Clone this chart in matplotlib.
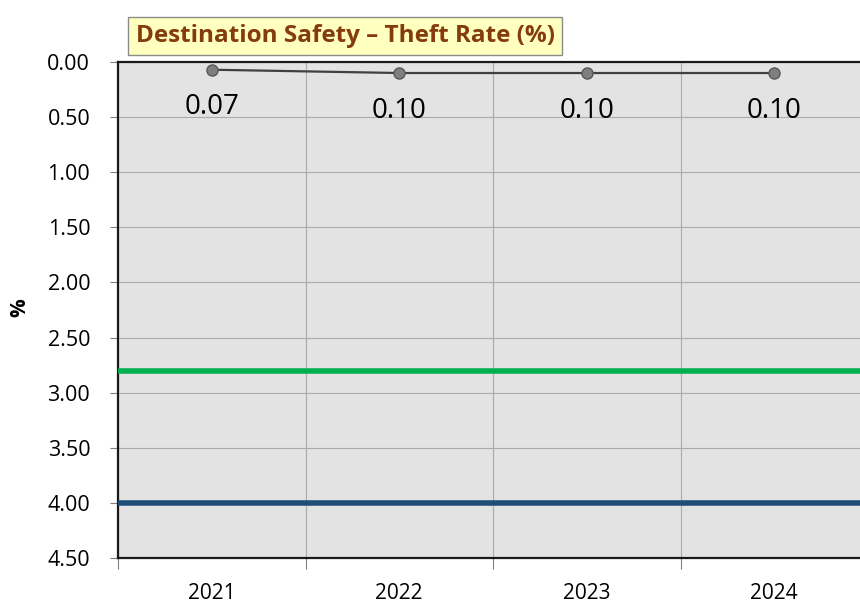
import matplotlib.pyplot as plt
import matplotlib.font_manager as fm

names = {f.name for f in fm.fontManager.ttflist}
main_font = 'Liberation Sans Narrow' if 'Liberation Sans Narrow' in names else 'Open Sans'
plt.rcParams['font.family'] = [main_font, 'DejaVu Sans']

# data
years = ['2021', '2022', '2023', '2024']
theft_rate = [0.07, 0.10, 0.10, 0.10]
target_green = 2.8
target_blue = 4.0
y_ticks = [0.0, 0.5, 1.0, 1.5, 2.0, 2.5, 3.0, 3.5, 4.0, 4.5]

fig = plt.figure(figsize=(8.6, 6.03), dpi=100)
ax = fig.add_axes([118 / 860, 1 - 558 / 603, 750 / 860, 496 / 603])
ax.set_facecolor('#e3e3e3')

x = list(range(len(years)))
ax.set_xlim(-0.5, len(years) - 0.5)
ax.set_ylim(4.5, 0.0)

ax.axhline(target_green, color='#00b050', linewidth=4, zorder=3)
ax.axhline(target_blue, color='#1f4e79', linewidth=4, zorder=3)

ax.plot(x, theft_rate, color='#404040', linewidth=1.6, marker='o',
        markersize=8, markerfacecolor='#7f7f7f', markeredgecolor='#595959', zorder=4)
for xi, v in zip(x, theft_rate):
    ax.annotate(f'{v:.2f}', (xi, v), xytext=(0, -27), textcoords='offset points',
                ha='center', va='center', fontsize=20, color='black')

ax.set_yticks(y_ticks)
ax.set_yticklabels([f'{t:.2f}' for t in y_ticks], fontsize=15.5)
ax.set_xticks([i - 0.5 for i in range(len(years) + 1)], minor=False)
ax.set_xticklabels([])
ax.set_xticks(x, minor=True)
ax.set_xticklabels(years, minor=True, fontsize=15)
ax.tick_params(axis='x', which='major', length=8, color='#808080', direction='out')
ax.tick_params(axis='x', which='minor', length=0, pad=18)
ax.tick_params(axis='y', length=6, color='#808080', pad=14)

ax.grid(True, which='major', color='#ababab', linewidth=0.8)
ax.set_axisbelow(True)

for side in ['left', 'bottom', 'top']:
    ax.spines[side].set_color('#1a1a1a')
    ax.spines[side].set_linewidth(1.6)
ax.spines['right'].set_visible(False)

fig.text(20 / 860, 1 - 308 / 603, '%', rotation=90, fontsize=15, fontweight='bold',
         ha='center', va='center')

fig.text(345 / 860, 1 - 36 / 603, 'Destination Safety \u2013 Theft Rate (%)',
         fontsize=17.5, fontweight='bold', color='#843c0c', ha='center', va='center',
         bbox=dict(boxstyle='square,pad=0.3', facecolor='#ffffc0', edgecolor='#8c8c8c',
                   linewidth=1))

fig.savefig('out.png', dpi=100)
